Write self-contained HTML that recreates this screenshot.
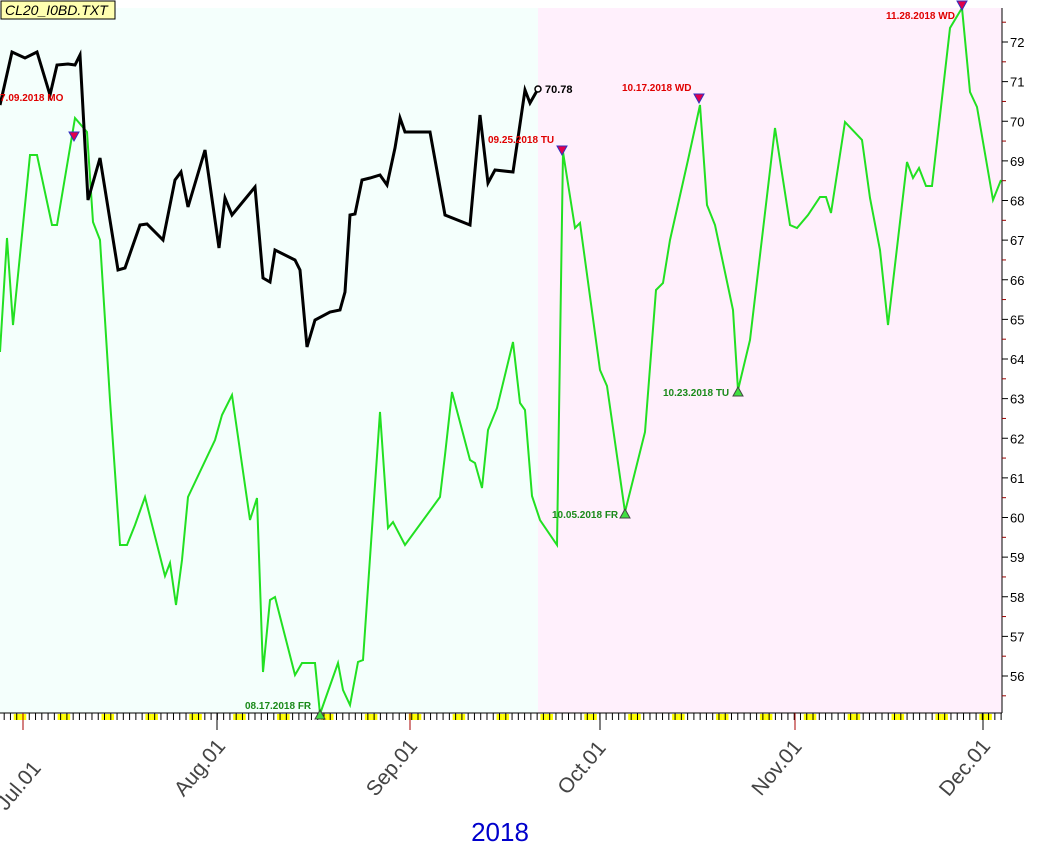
<!DOCTYPE html>
<html><head><meta charset="utf-8"><style>
body{margin:0;background:#fff;width:1063px;height:849px;overflow:hidden}
svg{display:block;font-family:"Liberation Sans",sans-serif}
</style></head><body>
<svg width="1063" height="849" viewBox="0 0 1063 849">
<rect x="0" y="0" width="1063" height="849" fill="#fff"/>
<rect x="0" y="8" width="538" height="705" fill="#f4fffc"/>
<rect x="538" y="8" width="464" height="705" fill="#fff0fc"/>
<line x1="1002" y1="8" x2="1002" y2="713" stroke="#000" stroke-width="1"/>
<line x1="0" y1="713" x2="1002" y2="713" stroke="#000"/>
<g id="yax" font-size="13" fill="#000"></g>
<g id="xt"></g>
<g font-size="21" fill="#444">
<text transform="translate(24,790) rotate(-50)" text-anchor="middle">Jul.01</text>
<text transform="translate(205,772) rotate(-50)" text-anchor="middle">Aug.01</text>
<text transform="translate(397,772) rotate(-50)" text-anchor="middle">Sep.01</text>
<text transform="translate(587,772) rotate(-50)" text-anchor="middle">Oct.01</text>
<text transform="translate(782,772) rotate(-50)" text-anchor="middle">Nov.01</text>
<text transform="translate(970,772) rotate(-50)" text-anchor="middle">Dec.01</text>
</g>
<text x="500" y="841" font-size="26" fill="#0000cc" text-anchor="middle">2018</text>
<polyline fill="none" stroke="#22e022" stroke-width="2" points="0,352 7,238 13,325 30,155 37,155 52,225 57,225 75,118 87,132 93,222 100,240 110,400 120,545 127,545 135,525 145,497 165,576 170,563 176,605 182,560 188,497 215,440 222,415 232,395 250,520 257,498 263,672 270,600 275,597 295,675 302,663 315,663 320,714 338,663 343,690 350,705 358,662 363,660 380,412 388,528 393,522 405,545 440,497 445,455 452,392 470,460 475,463 482,488 488,430 497,408 513,342 520,403 525,410 532,496 540,520 557,545 563,152 575,228 580,223 600,370 607,386 625,512 645,432 656,290 663,283 670,240 688,160 700,105 707,205 715,225 733,310 738,390 750,340 775,128 790,225 797,228 808,215 820,197 826,197 831,213 845,122 862,140 870,198 880,250 888,325 907,162 913,178 919,168 926,186 932,186 950,28 962,8 970,92 977,107 993,200 1001,180"/>
<polyline fill="none" stroke="#000" stroke-width="3" points="0,105 12,52 25,58 37,52 50,95 57,65 68,64 75,65 80,55 88,200 100,158 118,270 125,268 133,245 140,225 147,224 163,240 175,180 181,172 188,207 205,150 219,248 225,198 232,215 255,187 263,278 270,282 275,250 295,260 300,270 307,347 315,320 330,312 340,310 345,292 350,215 355,214 362,180 370,178 380,175 387,185 395,148 400,118 405,132 430,132 445,215 470,225 480,115 488,183 495,170 513,172 525,90 530,103 538,89"/>
<circle cx="538" cy="89" r="3" fill="#fff" stroke="#000" stroke-width="1.5"/>
<text x="545" y="93" font-size="11" font-weight="bold">70.78</text>
<g font-size="10" font-weight="bold">
<text x="0" y="101" fill="#e00000">7.09.2018 MO</text>
<text x="488" y="143" fill="#e00000">09.25.2018 TU</text>
<text x="622" y="91" fill="#e00000">10.17.2018 WD</text>
<text x="886" y="19" fill="#e00000">11.28.2018 WD</text>
<text x="245" y="709" fill="#1a8a1a">08.17.2018 FR</text>
<text x="552" y="518" fill="#1a8a1a">10.05.2018 FR</text>
<text x="663" y="396" fill="#1a8a1a">10.23.2018 TU</text>
</g>
<g fill="#e0004a" stroke="#3030c0" stroke-width="1">
<path d="M69,132 h10 l-5,9z"/><path d="M557,146 h10 l-5,9z"/><path d="M694,94 h10 l-5,9z"/><path d="M957,1 h10 l-5,9z"/>
</g>
<g fill="#40e040" stroke="#444" stroke-width="1">
<path d="M315,719 h10 l-5,-9z"/><path d="M620,518 h10 l-5,-9z"/><path d="M733,396 h10 l-5,-9z"/>
</g>
<rect x="1" y="1" width="114" height="18" fill="#ffffb0" stroke="#000"/>
<text x="5" y="15" font-size="14" font-style="italic">CL20_I0BD.TXT</text>
<script>
var ns="http://www.w3.org/2000/svg",ya=document.getElementById("yax"),xt=document.getElementById("xt");
function el(p,t,a,tx){var e=document.createElementNS(ns,t);for(var k in a)e.setAttribute(k,a[k]);if(tx)e.textContent=tx;p.appendChild(e);}
for(var v=72;v>=55.5;v-=0.5){var y=42+(72-v)*39.625;var maj=(v%1==0);
el(ya,"line",{x1:1002,y1:y,x2:maj?1008:1006,y2:y,stroke:maj?"#000":"#900"});
if(maj)el(ya,"text",{x:1010,y:y+5},""+v);}
for(var y2=42-19.8;y2>8;y2-=19.8)el(ya,"line",{x1:1002,y1:y2,x2:1006,y2:y2,stroke:"#900"});
var x0=23,d=6.27;
for(var i=-3;i<157;i++){var x=x0+i*d;if(x<0||x>1002)continue;
var wd=(i+7)%7;
if(wd==6||wd==0)el(xt,"rect",{x:x-3,y:714,width:d,height:6,fill:"#ffff00"});
el(xt,"line",{x1:x,y1:713,x2:x,y2:720,stroke:"#000"});}
[23,217,410,600,795,983].forEach(function(x,j){el(xt,"line",{x1:x,y1:713,x2:x,y2:730,stroke:j%2?"#000":"#a00"});});
</script>
</svg>
</body></html>
